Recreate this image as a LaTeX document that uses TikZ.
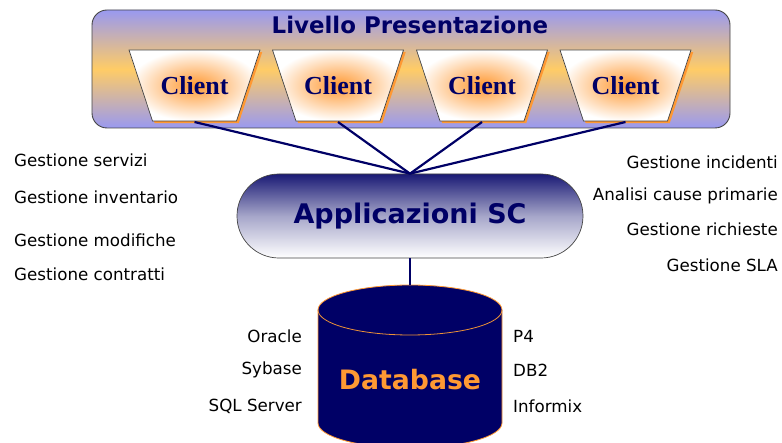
\documentclass[tikz,border=0pt]{standalone}
\usepackage{fontspec}
\setmainfont{DejaVu Sans}
\newfontfamily\clientfont{Liberation Serif}
\usetikzlibrary{shapes.geometric}

\definecolor{navy}{HTML}{000066}
\definecolor{lilac}{HTML}{9999F0}
\definecolor{sand}{HTML}{FFCC66}
\definecolor{tang}{HTML}{FF9933}
\definecolor{rim}{HTML}{444444}

\tikzset{
  layerbox/.style={rectangle, rounded corners=15pt, draw=rim, line width=0.9pt,
    top color=lilac, bottom color=lilac, middle color=sand,
    minimum width=638pt, minimum height=118pt},
  clientshade/.style={draw=rim, line width=0.7pt, inner color=tang, outer color=white},
  clientglow/.style={fill=tang, draw=none},
  clienttext/.style={font=\clientfont\bfseries\fontsize{26}{26}\selectfont, text=navy,
    inner sep=0pt},
  appbox/.style={rectangle, rounded corners=41.9pt, minimum width=346pt,
    minimum height=84pt, draw=rim, line width=0.7pt,
    top color=navy!90, bottom color=white, middle color=navy!35,
    font=\bfseries\fontsize{27}{27}\selectfont, text=navy},
  link/.style={draw=navy, line width=2.2pt},
  note/.style={font=\fontsize{16.7}{16.7}\selectfont, text=black, inner sep=0pt},
  dblabel/.style={font=\bfseries\fontsize{26.7}{26.7}\selectfont, text=tang, inner sep=0pt},
}

\begin{document}
\begin{tikzpicture}[x=1pt,y=-1pt]
\useasboundingbox (0,0) rectangle (782,443);

% presentation layer
\node[layerbox] (pres) at (411,69) {};
\node[font=\bfseries\fontsize{22.9}{22.9}\selectfont, text=navy] (title) at (410,25) {Livello Presentazione};

% client trapezoids, each with an orange offset edge
\foreach \name/\x in {c1/194.5, c2/338, c3/482, c4/625.5} {
  \path[clientglow] ([shift={(2.2,2.2)}]\x-65.5,50) -- ([shift={(2.2,2.2)}]\x+65.5,50)
    -- ([shift={(2.2,2.2)}]\x+42,121) -- ([shift={(2.2,2.2)}]\x-42,121) -- cycle;
  \path[clientshade] (\x-65.5,50) -- (\x+65.5,50) -- (\x+42,121) -- (\x-42,121) -- cycle;
  \node[clienttext] (\name) at (\x,86) {Client};
  \coordinate (\name b) at (\x,122);
}

% application layer
\node[appbox] (app) at (410,216) {Applicazioni SC};

\foreach \c in {c1,c2,c3,c4}
  \draw[link] (\c b) -- (app.north);

% database cylinder (runs off the lower edge); y grows downwards here
\coordinate (dbtop) at (410,285);
\begin{scope}
  \clip (0,0) rectangle (782,443);
  \draw[fill=navy, draw=tang, line width=0.8pt]
    (318,310) -- (318,423) arc[start angle=180, end angle=0, x radius=92, y radius=25]
    -- (502,310) arc[start angle=0, end angle=-180, x radius=92, y radius=25] -- cycle;
  \draw[draw=tang!70!brown, line width=0.8pt]
    (318,310) arc[start angle=180, end angle=0, x radius=92, y radius=25];
\end{scope}
\node[dblabel] (db) at (410,380) {Database};
\draw[link] (app.south) -- (dbtop);

% database products
\node[note, anchor=east] (ora) at (302,336) {Oracle};
\node[note, anchor=east] (syb) at (302,370) {Sybase};
\node[note, anchor=east] (sql) at (302,406) {SQL Server};
\node[note, anchor=west] (p4) at (513,336) {P4};
\node[note, anchor=west] (db2) at (513,370) {DB2};
\node[note, anchor=west] (inf) at (513,406) {Informix};

% service functions
\node[note, anchor=west] (l1) at (14,160) {Gestione servizi};
\node[note, anchor=west] (l2) at (14,197) {Gestione inventario};
\node[note, anchor=west] (l3) at (14,240) {Gestione modifiche};
\node[note, anchor=west] (l4) at (14,274) {Gestione contratti};
\node[note, anchor=east] (r1) at (778,162) {Gestione incidenti};
\node[note, anchor=east] (r2) at (778,196) {Analisi cause primarie};
\node[note, anchor=east] (r3) at (778,229) {Gestione richieste};
\node[note, anchor=east] (r4) at (778,265) {Gestione SLA};
\end{tikzpicture}
\end{document}
